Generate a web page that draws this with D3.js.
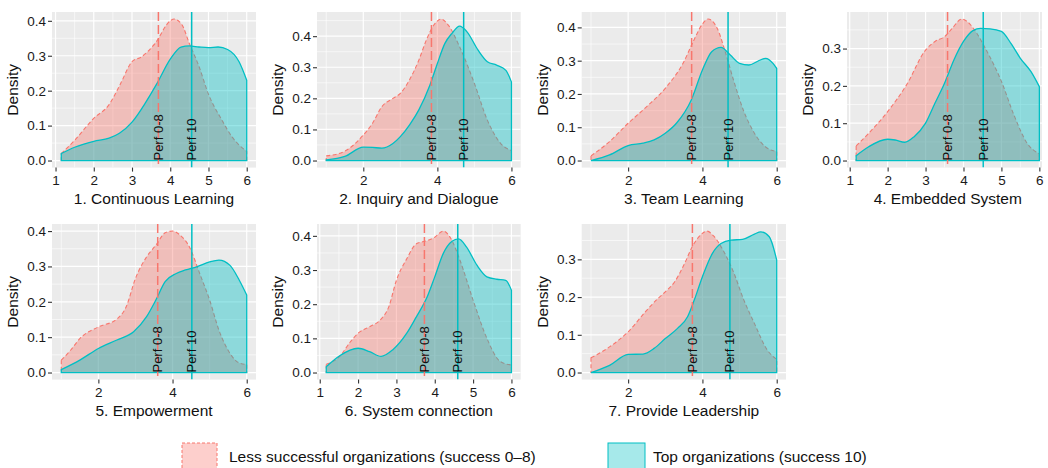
<!DOCTYPE html>
<html>
<head>
<meta charset="utf-8">
<script src="https://cdn.jsdelivr.net/npm/d3@7"></script>
<style>
  body { margin: 0; background: #fff; }
  svg { display: block; }
  text { font-family: "Liberation Sans", Arial, Helvetica, sans-serif; }
</style>
</head>
<body>
<svg id="chart" width="1048" height="468"></svg>
<script>
// Learning-organisation dimensions, one small multiple each
const dimensions = [
  "1. Continuous Learning",
  "2. Inquiry and Dialogue",
  "3. Team Learning",
  "4. Embedded System",
  "5. Empowerment",
  "6. System connection",
  "7. Provide Leadership"
];

// Kernel density estimates, [score, density], less successful organisations (success 0-8)
const lessDensity = [
  [[1.15,0.02],[1.5,0.058],[2.0,0.121],[2.4,0.16],[2.7,0.22],[3.0,0.283],[3.25,0.297],[3.6,0.335],[4.0,0.40],[4.1,0.405],[4.3,0.39],[4.5,0.335],[4.75,0.27],[5.0,0.19],[5.35,0.116],[5.6,0.07],[6.0,0.026]],
  [[1.0,0.015],[1.5,0.03],[2.0,0.082],[2.25,0.12],[2.5,0.173],[2.8,0.2],[3.0,0.216],[3.25,0.26],[3.5,0.323],[3.7,0.387],[3.9,0.435],[4.1,0.455],[4.3,0.435],[4.6,0.366],[5.0,0.248],[5.35,0.13],[5.7,0.056],[6.0,0.032]],
  [[1.0,0.014],[1.5,0.057],[2.0,0.112],[2.5,0.162],[3.0,0.217],[3.5,0.297],[3.75,0.357],[4.0,0.41],[4.15,0.425],[4.4,0.397],[4.6,0.332],[4.85,0.237],[5.1,0.152],[5.4,0.082],[5.75,0.037],[6.0,0.027]],
  [[1.17,0.039],[1.5,0.073],[2.0,0.131],[2.5,0.203],[3.0,0.296],[3.25,0.319],[3.5,0.332],[3.7,0.354],[3.95,0.379],[4.1,0.372],[4.35,0.341],[4.6,0.296],[5.0,0.212],[5.33,0.122],[5.68,0.046],[6.0,0.018]],
  [[1.0,0.035],[1.25,0.063],[1.5,0.096],[2.0,0.129],[2.5,0.151],[2.75,0.186],[3.0,0.266],[3.3,0.327],[3.55,0.36],[3.8,0.395],[4.0,0.4],[4.2,0.389],[4.45,0.356],[4.75,0.275],[5.0,0.205],[5.25,0.12],[5.55,0.054],[5.8,0.027],[6.0,0.023]],
  [[1.17,0.024],[1.52,0.047],[1.8,0.09],[2.0,0.115],[2.3,0.134],[2.57,0.153],[2.8,0.192],[3.0,0.27],[3.27,0.333],[3.52,0.377],[3.8,0.386],[4.0,0.396],[4.22,0.414],[4.45,0.386],[4.66,0.328],[5.0,0.212],[5.36,0.1],[5.71,0.032],[6.0,0.022]],
  [[1.0,0.039],[1.5,0.068],[2.0,0.108],[2.5,0.165],[2.8,0.196],[3.0,0.214],[3.25,0.24],[3.5,0.285],[3.75,0.338],[4.0,0.369],[4.12,0.375],[4.3,0.362],[4.6,0.316],[4.85,0.263],[5.1,0.196],[5.4,0.13],[5.75,0.059],[6.0,0.035]]
];

// Kernel density estimates, [score, density], top organisations (success 10)
const topDensity = [
  [[1.15,0.02],[1.5,0.038],[2.0,0.055],[2.4,0.064],[2.67,0.078],[3.0,0.11],[3.35,0.165],[3.65,0.22],[4.0,0.29],[4.28,0.325],[4.5,0.328],[4.75,0.325],[5.0,0.323],[5.25,0.325],[5.5,0.318],[5.8,0.283],[6.0,0.23]],
  [[1.0,0.002],[1.5,0.013],[2.0,0.043],[2.25,0.042],[2.5,0.04],[2.8,0.055],[3.0,0.077],[3.25,0.115],[3.5,0.163],[3.8,0.243],[4.0,0.312],[4.2,0.376],[4.4,0.41],[4.6,0.432],[4.8,0.414],[5.1,0.355],[5.35,0.318],[5.6,0.307],[5.85,0.29],[6.0,0.253]],
  [[1.0,0.0],[1.5,0.017],[2.0,0.045],[2.4,0.052],[2.7,0.062],[3.0,0.082],[3.3,0.112],[3.7,0.182],[4.0,0.272],[4.25,0.327],[4.5,0.34],[4.75,0.317],[5.0,0.292],[5.25,0.287],[5.5,0.299],[5.7,0.307],[5.9,0.292],[6.0,0.277]],
  [[1.17,0.013],[1.5,0.037],[2.0,0.057],[2.2,0.055],[2.45,0.049],[2.7,0.064],[3.0,0.1],[3.25,0.154],[3.5,0.207],[3.75,0.27],[4.0,0.319],[4.25,0.348],[4.45,0.354],[4.7,0.353],[5.0,0.346],[5.25,0.314],[5.5,0.274],[5.78,0.238],[6.0,0.198]],
  [[1.0,0.008],[1.5,0.035],[2.0,0.068],[2.5,0.092],[2.95,0.115],[3.3,0.158],[3.55,0.205],[3.8,0.257],[4.1,0.28],[4.35,0.29],[4.65,0.299],[5.0,0.313],[5.25,0.318],[5.55,0.303],[5.8,0.261],[6.0,0.219]],
  [[1.17,0.017],[1.52,0.049],[2.0,0.071],[2.3,0.061],[2.6,0.047],[2.9,0.066],[3.27,0.115],[3.52,0.163],[3.8,0.221],[4.0,0.28],[4.22,0.348],[4.45,0.384],[4.62,0.391],[4.83,0.367],[5.1,0.314],[5.36,0.28],[5.62,0.273],[5.85,0.27],[6.0,0.241]],
  [[1.0,0.0],[1.5,0.019],[2.0,0.048],[2.4,0.049],[2.7,0.064],[3.0,0.09],[3.33,0.117],[3.6,0.148],[3.78,0.192],[4.0,0.254],[4.27,0.316],[4.5,0.342],[4.77,0.351],[5.08,0.353],[5.4,0.367],[5.57,0.373],[5.8,0.36],[6.0,0.298]]
];

// Group means drawn as reference lines
const lessMean = [3.69, 3.84, 3.71, 3.58, 3.60, 3.73, 3.73];
const topMean  = [4.56, 4.71, 4.69, 4.52, 4.52, 4.60, 4.74];

// Axis breaks per panel
const xTicks = [
  [1,2,3,4,5,6], [2,4,6], [2,4,6], [1,2,3,4,5,6], [2,4,6], [1,2,3,4,5,6], [2,4,6]
];
const yTicks = [
  [0,0.1,0.2,0.3,0.4], [0,0.1,0.2,0.3,0.4], [0,0.1,0.2,0.3,0.4], [0,0.1,0.2,0.3],
  [0,0.1,0.2,0.3,0.4], [0,0.1,0.2,0.3,0.4], [0,0.1,0.2,0.3]
];

const seriesNames = ["Less successful organizations (success 0\u20138)", "Top organizations (success 10)"];
const meanLabels = ["Perf 0-8", "Perf 10"];

// ---- styling & layout ----
const RED = "#F8766D", TEAL = "#00BFC4";
const colLeft  = [52, 317, 581.7, 847];
const colRight = [256, 520.7, 786, 1048.5];
const rowTop = [12, 224];
const panelH = 155.6;
const visibleRight = 1042;

const svg = d3.select("#chart");
const defs = svg.append("defs");

function minorBreaks(ticks, lo, hi) {
  const step = ticks[1] - ticks[0];
  const out = [];
  for (let v = ticks[0] - step / 2; v <= ticks[ticks.length - 1] + step / 2 + 1e-9; v += step) {
    if (v >= lo && v <= hi) out.push(v);
  }
  return out;
}

dimensions.forEach((title, i) => {
  const col = i < 4 ? i : i - 4;
  const row = i < 4 ? 0 : 1;
  const L = colLeft[col], R = colRight[col], T = rowTop[row], B = T + panelH;
  const less = lessDensity[i], top = topDensity[i];
  const all = less.concat(top);

  const xMin = d3.min(all, d => d[0]), xMax = d3.max(all, d => d[0]);
  const xPad = 0.05 * (xMax - xMin);
  const x = d3.scaleLinear().domain([xMin - xPad, xMax + xPad]).range([L, R]);
  const yMax = d3.max(all, d => d[1]);
  const y = d3.scaleLinear().domain([-0.05 * yMax, 1.05 * yMax]).range([B, T]);

  const Rv = Math.min(R, visibleRight);
  const g = svg.append("g");

  // panel background
  g.append("rect").attr("x", L).attr("y", T).attr("width", Rv - L).attr("height", panelH).attr("fill", "#EBEBEB");

  const clipId = "clip" + i;
  defs.append("clipPath").attr("id", clipId)
    .append("rect").attr("x", L).attr("y", T).attr("width", Rv - L).attr("height", panelH);
  const p = g.append("g").attr("clip-path", `url(#${clipId})`);

  // grid
  const [dx0, dx1] = x.domain(), [dy0, dy1] = y.domain();
  minorBreaks(xTicks[i], dx0, dx1).forEach(v => {
    p.append("line").attr("x1", x(v)).attr("x2", x(v)).attr("y1", T).attr("y2", B)
      .attr("stroke", "#fff").attr("stroke-width", 0.6);
  });
  minorBreaks(yTicks[i], dy0, dy1).forEach(v => {
    p.append("line").attr("x1", L).attr("x2", R).attr("y1", y(v)).attr("y2", y(v))
      .attr("stroke", "#fff").attr("stroke-width", 0.6);
  });
  xTicks[i].forEach(v => {
    p.append("line").attr("x1", x(v)).attr("x2", x(v)).attr("y1", T).attr("y2", B)
      .attr("stroke", "#fff").attr("stroke-width", 1.2);
  });
  yTicks[i].forEach(v => {
    p.append("line").attr("x1", L).attr("x2", R).attr("y1", y(v)).attr("y2", y(v))
      .attr("stroke", "#fff").attr("stroke-width", 1.2);
  });

  // density areas
  const area = d3.area()
    .x(d => x(d[0])).y0(y(0)).y1(d => y(d[1]))
    .curve(d3.curveMonotoneX);

  p.append("path").datum(less).attr("d", area)
    .attr("fill", RED).attr("fill-opacity", 0.38)
    .attr("stroke", RED).attr("stroke-width", 1.1).attr("stroke-dasharray", "4,2.5");
  p.append("path").datum(top).attr("d", area)
    .attr("fill", TEAL).attr("fill-opacity", 0.4)
    .attr("stroke", TEAL).attr("stroke-width", 1.3);

  // mean reference lines
  p.append("line").attr("x1", x(lessMean[i])).attr("x2", x(lessMean[i])).attr("y1", T).attr("y2", B)
    .attr("stroke", RED).attr("stroke-width", 1.5).attr("stroke-dasharray", "9,4");
  p.append("line").attr("x1", x(topMean[i])).attr("x2", x(topMean[i])).attr("y1", T).attr("y2", B)
    .attr("stroke", TEAL).attr("stroke-width", 1.5);

  [lessMean[i], topMean[i]].forEach((m, k) => {
    p.append("text")
      .attr("transform", `translate(${x(m)},${y(0)}) rotate(-90)`)
      .attr("text-anchor", "start").attr("dominant-baseline", "central")
      .attr("font-size", 13).attr("fill", "#111")
      .text(meanLabels[k]);
  });

  // axes
  const yAxis = g.append("g").attr("transform", `translate(${L},0)`)
    .call(d3.axisLeft(y).tickValues(yTicks[i]).tickFormat(d3.format(".1f")).tickSize(4).tickPadding(2));
  const xAxis = g.append("g").attr("transform", `translate(0,${B})`)
    .call(d3.axisBottom(x).tickValues(xTicks[i]).tickFormat(d3.format("d")).tickSize(4).tickPadding(4));
  [yAxis, xAxis].forEach(a => {
    a.select(".domain").remove();
    a.selectAll(".tick line").attr("stroke", "#333").attr("stroke-width", 1.1);
    a.selectAll(".tick text").attr("fill", "#1a1a1a").attr("font-size", 13.5)
      .style("font-family", "'Liberation Sans', Arial, Helvetica, sans-serif");
  });

  // axis titles
  g.append("text")
    .attr("transform", `translate(${L - 34},${(T + B) / 2}) rotate(-90)`)
    .attr("text-anchor", "middle").attr("font-size", 15.5).attr("fill", "#111")
    .text("Density");
  g.append("text")
    .attr("x", (L + R) / 2).attr("y", B + 36.7)
    .attr("text-anchor", "middle").attr("font-size", 15.5).attr("fill", "#111")
    .text(title);
});

// legend
const legend = svg.append("g");
const keys = [
  { x: 182, w: 35, fill: RED, dash: "3,2", tx: 229 },
  { x: 608, w: 37, fill: TEAL, dash: null, tx: 653 }
];
keys.forEach((k, j) => {
  legend.append("rect").attr("x", k.x).attr("y", 443).attr("width", k.w).attr("height", 35)
    .attr("fill", k.fill).attr("fill-opacity", 0.35)
    .attr("stroke", k.fill).attr("stroke-width", 1)
    .attr("stroke-dasharray", k.dash);
  legend.append("text").attr("x", k.tx).attr("y", 461.5)
    .attr("font-size", 15.5).attr("fill", "#111")
    .text(seriesNames[j]);
});
</script>
</body>
</html>
